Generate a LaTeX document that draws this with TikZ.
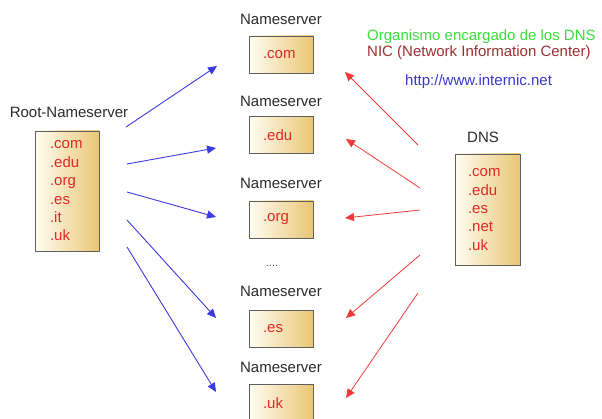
\documentclass[tikz,border=0pt]{standalone}
\usepackage{fontspec}
\setmainfont{Liberation Sans}
\usetikzlibrary{arrows.meta}
\definecolor{boxL}{HTML}{FFFDF2}
\definecolor{boxR}{HTML}{E9C675}
\definecolor{itemred}{HTML}{E02828}
\definecolor{lblgray}{HTML}{2A2A2A}
\definecolor{arrblue}{HTML}{3A3AE0}
\definecolor{arrred}{HTML}{F03A3A}
\definecolor{orggreen}{HTML}{3CDC3C}
\definecolor{nicred}{HTML}{9A3030}
\definecolor{urlblue}{HTML}{3838CC}
\begin{document}
\begin{tikzpicture}[x=1pt,y=-1pt,
  txt/.style={font=\fontsize{15}{18.4}\selectfont, inner sep=0pt},
  lbl/.style={txt, text=lblgray},
  srvbox/.style={draw=gray!75!black, line width=0.8pt, left color=boxL, right color=boxR,
    txt, text=itemred, align=left, inner ysep=0pt},
  nsbox/.style={srvbox, inner xsep=14pt, text width=36pt, minimum height=37pt},
  bluearr/.style={draw=arrblue, line width=0.9pt, -{Triangle[length=9pt,width=8pt]}},
  redarr/.style={draw=arrred, line width=0.8pt, -{Triangle[length=9pt,width=8pt]}}]
\useasboundingbox (0,0) rectangle (602,419);

% Root nameserver
\node[lbl] (rootlbl) at (69,112) {Root-Nameserver};
\node[srvbox, inner xsep=15pt, text width=34pt, minimum height=120pt] (root) at (67,191)
  {.com\\.edu\\.org\\.es\\.it\\.uk};

% Nameservers
\node[lbl] (l1) at (281,19) {Nameserver};
\node[nsbox] (ns1) at (281,54.5) {.com};
\node[lbl] (l2) at (281,101) {Nameserver};
\node[nsbox] (ns2) at (281,135) {.edu};
\node[lbl] (l3) at (281,183) {Nameserver};
\node[nsbox] (ns3) at (281,219.5) {.org};
\node[txt, text=nicred, font=\fontsize{11}{12}\selectfont] (dots) at (272,266) {....};
\node[lbl] (l4) at (281,291) {Nameserver};
\node[nsbox] (ns4) at (281,329) {.es};
\node[lbl] (l5) at (281,367) {Nameserver};
\node[nsbox] (ns5) at (281,403) {.uk};

% DNS
\node[lbl] (dnslbl) at (483,137) {DNS};
\node[srvbox, inner xsep=13pt, text width=39pt, minimum height=111pt] (dns) at (487.5,209.5)
  {.com\\.edu\\.es\\.net\\.uk};

% Top-right texts
\node[txt, text=orggreen, anchor=west] (org) at (367,37) {Organismo encargado de los DNS};
\node[txt, text=nicred, anchor=west] (nic) at (367,53) {NIC (Network Information Center)};
\node[txt, text=urlblue, anchor=west] (url) at (405,82) {http://www.internic.net};

% arrow end points
\coordinate (b1s) at (126,127); \coordinate (b1e) at (217,66);
\coordinate (b2s) at (127,164); \coordinate (b2e) at (216,148);
\coordinate (b3s) at (127,192); \coordinate (b3e) at (216,217);
\coordinate (b4s) at (127,220); \coordinate (b4e) at (216,318);
\coordinate (b5s) at (127,247); \coordinate (b5e) at (216,392);
\coordinate (r1s) at (418,145); \coordinate (r1e) at (345,72);
\coordinate (r2s) at (420,188); \coordinate (r2e) at (346,139);
\coordinate (r3s) at (420,210); \coordinate (r3e) at (345,218);
\coordinate (r4s) at (420,255); \coordinate (r4e) at (346,318);
\coordinate (r5s) at (418,293); \coordinate (r5e) at (346,398);

\foreach \i in {1,...,5}{
  \draw[bluearr] (b\i s) -- (b\i e);
  \draw[redarr] (r\i s) -- (r\i e);
}
\end{tikzpicture}
\end{document}
